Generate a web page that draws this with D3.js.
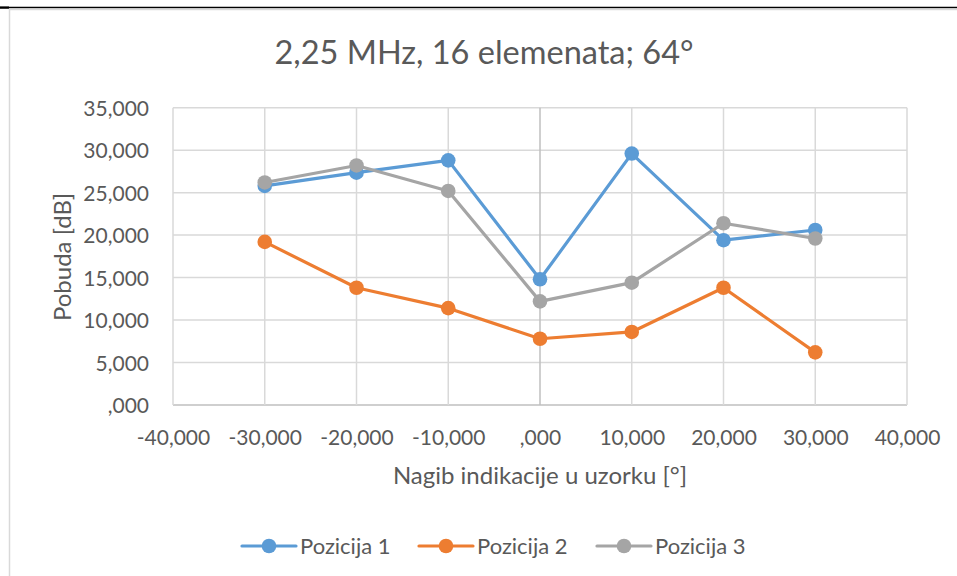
<!DOCTYPE html>
<html>
<head>
<meta charset="utf-8">
<script src="https://cdn.jsdelivr.net/npm/d3@7"></script>
<style>
  html, body { margin: 0; padding: 0; background: #fff; }
  svg { display: block; }
  text { font-family: Lato, "Open Sans", sans-serif; fill: #595959; }
</style>
</head>
<body>
<svg id="chart" width="957" height="576"></svg>
<script>
// Tilt angle of the indication (degrees)
const angles = [-30, -20, -10, 0, 10, 20, 30];
// Excitation level per probe position (dB)
const pozicija1 = [25.8, 27.35, 28.8, 14.8, 29.6, 19.4, 20.6];
const pozicija2 = [19.2, 13.8, 11.4, 7.8, 8.6, 13.8, 6.2];
const pozicija3 = [26.2, 28.2, 25.2, 12.2, 14.4, 21.4, 19.6];
const seriesNames = ["Pozicija 1", "Pozicija 2", "Pozicija 3"];
const seriesColors = ["#5B9BD5", "#ED7D31", "#A5A5A5"];
const xTicks = [-40, -30, -20, -10, 0, 10, 20, 30, 40];
const yTicks = [0, 5, 10, 15, 20, 25, 30, 35];
const titleText = "2,25 MHz, 16 elemenata; 64°";
const xTitle = "Nagib indikacije u uzorku [°]";
const yTitle = "Pobuda [dB]";

const svg = d3.select("#chart");
const plot = { left: 173, right: 907, top: 107.7, bottom: 405 };

const x = d3.scaleLinear().domain([-40, 40]).range([plot.left, plot.right]);
const y = d3.scaleLinear().domain([0, 35]).range([plot.bottom, plot.top]);

// Three decimals with a decimal comma and no leading zero: 25 -> "25,000", 0 -> ",000"
const fmt = v => v.toFixed(3).replace(".", ",").replace(/^(-?)0,/, "$1,");

// Page rule above the chart and the chart frame
svg.append("line").attr("x1", 0).attr("x2", 957).attr("y1", 7.5).attr("y2", 7.5)
  .attr("stroke", "#000").attr("stroke-width", 1.6);
svg.append("rect").attr("x", 0).attr("y", 6.5).attr("width", 9).attr("height", 2.2).attr("fill", "#000");
svg.append("path").attr("d", "M9.5,600 V9.5 H960")
  .attr("fill", "none").attr("stroke", "#D9D9D9").attr("stroke-width", 1.5);

// Title
svg.append("text").attr("x", 484).attr("y", 64).attr("text-anchor", "middle")
  .style("font-size", "32.5px").text(titleText);

// Grid
const grid = svg.append("g");
grid.selectAll(".gy").data(yTicks).join("line")
  .attr("x1", plot.left).attr("x2", plot.right)
  .attr("y1", d => y(d)).attr("y2", d => y(d))
  .attr("stroke", d => d === 0 ? "#BFBFBF" : "#D9D9D9").attr("stroke-width", 1.5);
grid.selectAll(".gx").data(xTicks).join("line")
  .attr("y1", plot.top).attr("y2", plot.bottom)
  .attr("x1", d => x(d)).attr("x2", d => x(d))
  .attr("stroke", d => d === 0 ? "#BFBFBF" : "#D9D9D9").attr("stroke-width", 1.5);

// Axes (labels only; lines drawn with the grid)
const tickFont = "21px";
const yAxis = svg.append("g").attr("transform", `translate(${plot.left - 24},0)`)
  .call(d3.axisLeft(y).tickValues(yTicks).tickFormat(fmt).tickSize(0).tickPadding(0));
yAxis.select(".domain").remove();
yAxis.selectAll("text").style("font-size", tickFont).attr("fill", "#595959").attr("dy", "0.36em")
  .style("font-family", "Lato, 'Open Sans', sans-serif");

const xAxis = svg.append("g").attr("transform", `translate(0,${plot.bottom + 25})`)
  .call(d3.axisBottom(x).tickValues(xTicks).tickFormat(fmt).tickSize(0).tickPadding(0));
xAxis.select(".domain").remove();
xAxis.selectAll("text").style("font-size", tickFont).attr("fill", "#595959").attr("dy", "0.72em")
  .style("font-family", "Lato, 'Open Sans', sans-serif");

// Axis titles
svg.append("text").attr("x", 540).attr("y", 484).attr("text-anchor", "middle")
  .style("font-size", "24px").text(xTitle);
svg.append("text").attr("transform", "translate(71,257) rotate(-90)").attr("text-anchor", "middle")
  .style("font-size", "24px").text(yTitle);

// Series
const allSeries = [pozicija1, pozicija2, pozicija3];
const line = d3.line().x((d, i) => x(angles[i])).y(d => y(d));
allSeries.forEach((vals, si) => {
  const g = svg.append("g");
  g.append("path").datum(vals).attr("d", line)
    .attr("fill", "none").attr("stroke", seriesColors[si]).attr("stroke-width", 3.2)
    .attr("stroke-linejoin", "round").attr("stroke-linecap", "round");
  g.selectAll("circle").data(vals).join("circle")
    .attr("cx", (d, i) => x(angles[i])).attr("cy", d => y(d)).attr("r", 7.3)
    .attr("fill", seriesColors[si]);
});

// Legend
const legendX = [242, 419, 597];
const legend = svg.append("g");
seriesNames.forEach((name, i) => {
  const lx = legendX[i], ly = 546;
  legend.append("line").attr("x1", lx).attr("x2", lx + 54).attr("y1", ly).attr("y2", ly)
    .attr("stroke", seriesColors[i]).attr("stroke-width", 3.2).attr("stroke-linecap", "round");
  legend.append("circle").attr("cx", lx + 27).attr("cy", ly).attr("r", 7.3).attr("fill", seriesColors[i]);
  legend.append("text").attr("x", lx + 58).attr("y", ly).attr("dy", "0.36em")
    .style("font-size", "22px").text(name);
});
</script>
</body>
</html>
